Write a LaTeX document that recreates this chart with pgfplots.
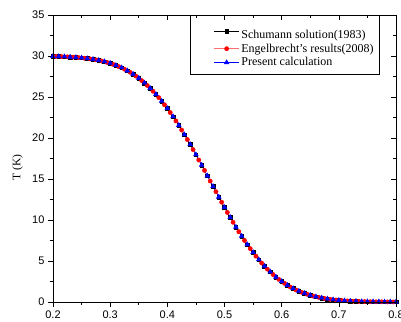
\documentclass[border=0pt]{standalone}
\usepackage{fontspec}
\setmainfont{Liberation Serif}
\newfontfamily\arialfont{Liberation Sans}
\usepackage{pgfplots}
\pgfplotsset{compat=1.18}
\usepackage{pgfplotstable}

\pgfplotstableread{
x T
0.20 29.96
0.21 29.94
0.22 29.91
0.23 29.88
0.24 29.83
0.25 29.77
0.26 29.69
0.27 29.59
0.28 29.47
0.29 29.32
0.30 29.12
0.31 28.85
0.32 28.57
0.33 28.20
0.34 27.79
0.35 27.30
0.36 26.71
0.37 26.06
0.38 25.32
0.39 24.49
0.40 23.60
0.41 22.61
0.42 21.54
0.43 20.40
0.44 19.21
0.45 17.96
0.46 16.69
0.47 15.39
0.48 14.09
0.49 12.80
0.50 11.53
0.51 10.31
0.52 9.13
0.53 8.03
0.54 7.00
0.55 6.04
0.56 5.16
0.57 4.37
0.58 3.67
0.59 3.05
0.60 2.50
0.61 2.04
0.62 1.65
0.63 1.32
0.64 1.05
0.65 0.82
0.66 0.64
0.67 0.49
0.68 0.37
0.69 0.28
0.70 0.20
0.71 0.15
0.72 0.11
0.73 0.08
0.74 0.05
0.75 0.04
0.76 0.03
0.77 0.02
0.78 0.01
0.79 0.01
0.80 0.01
}\schumann

\pgfplotstableread{
x T
0.205 29.95
0.215 29.92
0.225 29.90
0.235 29.86
0.245 29.80
0.255 29.73
0.265 29.64
0.275 29.53
0.285 29.39
0.295 29.20
0.305 28.98
0.315 28.71
0.325 28.39
0.335 28.01
0.345 27.55
0.355 27.01
0.365 26.40
0.375 25.70
0.385 24.93
0.395 24.06
0.405 23.11
0.415 22.08
0.425 20.97
0.435 19.81
0.445 18.59
0.455 17.32
0.465 16.05
0.475 14.75
0.485 13.45
0.495 12.17
0.505 10.92
0.515 9.72
0.525 8.57
0.535 7.50
0.545 6.51
0.555 5.59
0.565 4.75
0.575 4.00
0.585 3.35
0.595 2.76
0.605 2.27
0.615 1.83
0.625 1.47
0.635 1.18
0.645 0.93
0.655 0.72
0.665 0.56
0.675 0.43
0.685 0.32
0.695 0.24
0.705 0.18
0.715 0.13
0.725 0.09
0.735 0.07
0.745 0.05
0.755 0.03
0.765 0.02
0.775 0.02
0.785 0.01
0.795 0.01
}\engel

\pgfplotstableread{
x T
0.20 29.97
0.21 29.95
0.22 29.92
0.23 29.88
0.24 29.83
0.25 29.78
0.26 29.70
0.27 29.60
0.28 29.48
0.29 29.33
0.30 29.13
0.31 28.86
0.32 28.58
0.33 28.21
0.34 27.80
0.35 27.31
0.36 26.72
0.37 26.07
0.38 25.33
0.39 24.50
0.40 23.61
0.41 22.62
0.42 21.55
0.43 20.41
0.44 19.22
0.45 17.97
0.46 16.70
0.47 15.40
0.48 14.10
0.49 12.81
0.50 11.54
0.51 10.32
0.52 9.14
0.53 8.04
0.54 7.01
0.55 6.05
0.56 5.17
0.57 4.38
0.58 3.68
0.59 3.06
0.60 2.51
0.61 2.05
0.62 1.66
0.63 1.33
0.64 1.06
0.65 0.83
0.66 0.65
0.67 0.50
0.68 0.38
0.69 0.29
0.70 0.21
0.71 0.16
0.72 0.12
0.73 0.09
0.74 0.06
0.75 0.05
0.76 0.04
0.77 0.03
0.78 0.02
0.79 0.02
0.80 0.02
}\present

\definecolor{lightred}{RGB}{255,110,110}

\begin{document}
\begin{tikzpicture}
\pgfplotsset{
  common/.style={
    width=343pt, height=287pt, scale only axis,
    xmin=0.2, xmax=0.8, ymin=0, ymax=35,
    xtick={0.2,0.3,...,0.8}, ytick={0,5,...,35},
    minor x tick num=1, minor y tick num=1,
    major tick length=5pt, minor tick length=3pt,
    tick style={line width=0.6pt, black},
    axis line style={line width=0.6pt},
  }
}
\begin{axis}[common, name=ax,
  xtick pos=left, ytick pos=left, tick align=outside,
  ticklabel style={font=\arialfont\fontsize{11}{12}\selectfont},
  /pgf/number format/assume math mode=true,
  xticklabel style={/pgf/number format/.cd, fixed, fixed zerofill, precision=1},
  ylabel={T (K)},
  every axis y label/.style={at={(axis description cs:-0.103,0.47)}, rotate=90, anchor=center, font=\fontsize{11.5}{12}\selectfont},
  legend style={at={(0.9534,1)}, anchor=north east, draw=black, line width=0.6pt,
    font=\fontsize{12}{13.5}\selectfont, inner xsep=4pt, inner ysep=5pt,
    cells={anchor=west}, row sep=0pt},
  legend image code/.code={
    \path (-20pt,0pt) (25pt,0pt);
    \draw[mark repeat=2, mark phase=2] plot coordinates {(0pt,0pt) (12.5pt,0pt) (25pt,0pt)};
  },
]
\addplot[black, line width=0.5pt, mark=square*, mark size=1.8pt] table[x=x, y=T] {\schumann};
\addlegendentry{\rule{0pt}{16pt}Schumann solution(1983)}
\addplot[lightred, line width=0.5pt, mark=*, mark size=2.1pt, mark options={draw=red, fill=red}] table[x=x, y=T] {\engel};
\addlegendentry{Engelbrecht's results(2008)}
\addplot[blue, line width=0.5pt, mark=triangle*, mark size=2.7pt, mark options={draw=blue, fill=blue}] table[x=x, y=T] {\present};
\addlegendentry{Present calculation}
\end{axis}
\begin{axis}[common,
  xtick pos=right, ytick pos=right, tick align=inside,
  xticklabels={}, yticklabels={},
]
\end{axis}
\pgfresetboundingbox
\useasboundingbox ([xshift=-53pt,yshift=-20pt]ax.south west) rectangle ([xshift=5pt,yshift=15pt]ax.north east);
\end{tikzpicture}
\end{document}
